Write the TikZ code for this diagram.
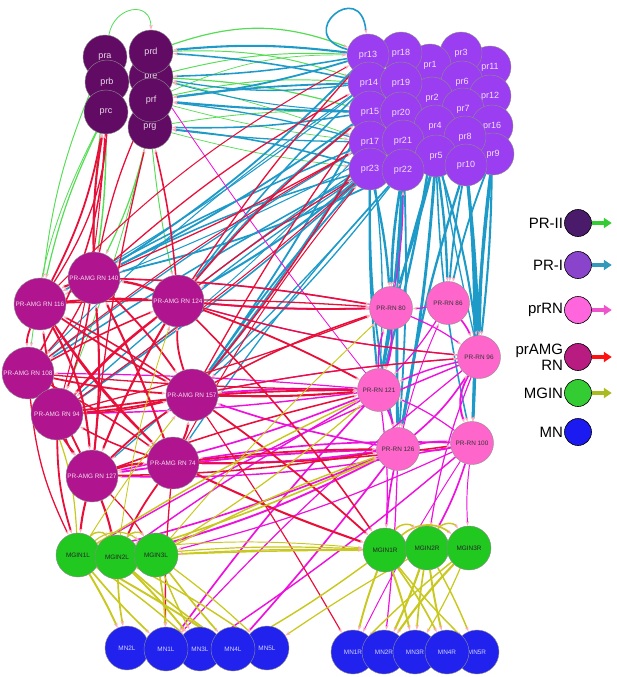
\documentclass[tikz,border=0pt]{standalone}
\usepackage{fontspec}
\setmainfont{Liberation Sans}
\usetikzlibrary{arrows.meta,positioning,backgrounds}

\definecolor{prII}{HTML}{620B64}
\definecolor{prI}{HTML}{9B3DF0}
\definecolor{prAMG}{HTML}{B0148E}
\definecolor{prRN}{HTML}{FF66CC}
\definecolor{mgin}{HTML}{20C820}
\definecolor{mn}{HTML}{2222EE}
\definecolor{eII}{HTML}{55DD55}
\definecolor{eI}{HTML}{1E9AC8}
\definecolor{eRN}{HTML}{EE11DD}
\definecolor{eAMG}{HTML}{E8103A}
\definecolor{eMG}{HTML}{C8C81E}
\definecolor{tippink}{HTML}{FFB0C0}
\definecolor{lgIIf}{HTML}{4A1B6A}
\definecolor{lgIf}{HTML}{8A44CC}
\definecolor{lgRNf}{HTML}{FF66DD}
\definecolor{lgAMGf}{HTML}{B81C80}
\definecolor{lgMGf}{HTML}{33CC33}
\definecolor{lgIIa}{HTML}{33CC33}
\definecolor{lgIa}{HTML}{3399BB}
\definecolor{lgRNa}{HTML}{EE55CC}
\definecolor{lgAMGa}{HTML}{FF1111}
\definecolor{lgMGa}{HTML}{AABB22}

\tikzset{
  cell/.style={circle, inner sep=0pt, draw=black!45, line width=0.4pt,
    font=\fontsize{6.4}{7}\selectfont},
  prIInode/.style={cell, fill=prII, minimum size=44pt, text=white!85!prII,
    font=\fontsize{9}{10}\selectfont},
  prInode/.style={cell, fill=prI, minimum size=42pt, text=white!85!prI,
    font=\fontsize{9}{10}\selectfont},
  amgnode/.style={cell, fill=prAMG, minimum size=52pt, text=white!85!prAMG},
  rnnode/.style={cell, fill=prRN, minimum size=43pt, text=black!80},
  mgnode/.style={cell, fill=mgin, minimum size=44pt, text=black!85},
  mnnode/.style={cell, fill=mn, minimum size=44pt, text=white!80!mn},
  eIIline/.style={->, draw=eII, line width=0.8pt},
  eIline/.style={->, draw=eI},
  eRNline/.style={->, draw=eRN},
  eAMGline/.style={->, draw=eAMG},
  eMGline/.style={->, draw=eMG},
  legdot/.style={circle, draw=black, line width=0.6pt, minimum size=27pt, inner sep=0pt},
  legtext/.style={inner sep=0pt, align=right, font=\fontsize{15}{16}\selectfont},
  legarrow/.style={line width=3.2pt, -{Triangle[length=8pt,width=10pt]}}
}

\begin{document}
\begin{tikzpicture}[x=1pt, y=1pt, >={Stealth[length=5pt,width=3.5pt,color=tippink]}]
\useasboundingbox (0,0) rectangle (617,-677);

% PR-II
\node[prIInode] (pra) at (105,-57) {pra};
\node[prIInode] (prb) at (107,-82) {prb};
\node[prIInode] (prc) at (106,-112) {prc};
\node[prIInode] (pre) at (151,-77) {pre};
\node[prIInode] (prg) at (150,-127) {prg};
\node[prIInode] (prf) at (151,-100) {prf};
\node[prIInode] (prd) at (151,-52) {prd};

% PR-I
\foreach \nm/\x/\y in {pr11/490/67, pr3/461/53, pr1/430/65, pr18/401/53, pr13/368/55,
  pr6/462/82, pr12/490/96, pr2/432/98, pr14/369/83, pr19/401/83, pr7/463/109,
  pr16/492/126, pr9/493/154, pr15/370/112, pr20/401/113, pr4/435/126, pr8/465/137,
  pr17/370/142, pr21/403/141, pr5/436/156, pr10/466/165, pr23/370/169, pr22/403/170}
  \node[prInode] (\nm) at (\x,-\y) {\nm};

% PR-AMG RN
\foreach \nm/\x/\y in {140/94/278, 116/40/304, 124/178/301, 108/28/373, 157/192/395,
  94/57/414, 74/173/463, 127/92/476}
  \node[amgnode] (amg\nm) at (\x,-\y) {PR-AMG RN \nm};

% PR-RN
\foreach \nm/\x/\y in {80/391/308, 86/448/303, 96/479/357, 121/379/390, 126/398/449, 100/472/443}
  \node[rnnode] (rn\nm) at (\x,-\y) {PR-RN \nm};

% MGIN
\node[mgnode] (mg1L) at (78,-555) {MGIN1L};
\node[mgnode] (mg2L) at (117,-557) {MGIN2L};
\node[mgnode] (mg3L) at (156,-555) {MGIN3L};
\node[mgnode] (mg1R) at (385,-550) {MGIN1R};
\node[mgnode] (mg2R) at (427,-548) {MGIN2R};
\node[mgnode] (mg3R) at (469,-548) {MGIN3R};

% MN
\foreach \nm/\x/\y in {2L/127/648, 5L/267/648, 3L/200/649, 1L/166/649, 4L/233/649,
  5R/477/652, 1R/353/652, 2R/384/652, 3R/415/652, 4R/447/652}
  \node[mnnode] (mn\nm) at (\x,-\y) {MN\nm};

\begin{pgfonlayer}{background}
% PR-II connections
\draw[eIIline] (pra) to[out=80,in=90,looseness=1.8] (prd);
\foreach \a/\b/\w/\bd in {prd/pr13/1.0/20, prd/pr14/0.8/10, pre/pr13/0.8/8, pre/pr15/1.0/6,
  prf/pr14/0.8/8, prf/pr17/0.6/-4, prg/pr15/0.7/5, prg/pr23/0.6/-4, prf/pr13/0.6/12,
  pre/pr17/0.6/3, prc/amg116/1.0/-6, prb/amg140/0.9/-4, prc/amg140/1.2/4, pra/amg116/0.8/-8,
  prg/amg140/1.0/6, prg/amg124/0.8/-3, prc/amg108/0.7/-10, prg/amg94/0.7/4}
  \draw[eIIline, line width=1.2*\w pt] (\a) to[bend left=\bd] (\b);

% PR-I connections
\draw[eIline, line width=1.6pt] (pr13) to[out=165,in=95,looseness=6] (pr13);
\foreach \a/\b/\w/\bd in {pr13/prd/1.6/-6, pr13/pre/1.2/4, pr14/prf/1.4/-3, pr15/prg/1.2/5,
  pr17/prf/1.0/-4, pr14/pre/1.0/8, pr23/prg/1.2/-5, pr15/pre/0.8/6, pr15/prf/1.6/2,
  pr17/prg/1.0/3, pr13/prf/1.4/5, pr14/prd/1.2/-4, pr15/amg140/1.4/4, pr17/amg116/1.2/-3,
  pr23/amg124/1.6/5, pr14/amg108/0.8/-5, pr17/amg157/1.2/3, pr23/amg94/1.0/-4,
  pr15/amg124/1.0/-6, pr22/amg140/1.4/6, pr21/amg116/0.8/3, pr23/amg157/1.4/-3,
  pr22/amg127/1.0/4, pr17/amg94/0.7/6, pr14/amg116/0.8/4, pr21/amg124/1.0/-2,
  pr22/amg157/1.0/5, pr23/amg108/1.2/-2, pr13/amg140/1.4/6, pr14/amg124/1.2/-4,
  pr15/amg157/1.4/3, pr17/amg108/1.0/-3, pr21/amg94/1.2/4, pr22/amg74/1.0/-4,
  pr23/amg140/1.2/-5, pr23/rn80/1.8/4, pr22/rn80/2.0/-4, pr22/rn121/2.0/3,
  pr23/rn121/1.6/-3, pr22/rn126/2.2/-2, pr5/rn126/2.2/3, pr5/rn121/1.6/-3,
  pr10/rn96/2.4/2, pr9/rn96/2.2/-3, pr10/rn100/2.0/4, pr9/rn100/2.2/-2, pr5/rn86/1.8/3,
  pr10/rn86/1.4/-3, pr5/rn80/1.6/2, pr10/rn126/1.8/-4, pr21/rn126/1.4/3, pr4/rn96/1.0/-2,
  pr17/rn121/1.0/5, pr23/rn126/1.4/-6, pr5/rn100/1.2/-5, pr21/rn80/2.0/4,
  pr4/rn121/1.8/3, pr5/rn96/1.6/5, pr8/rn100/1.4/3, pr9/rn86/1.4/-4, pr16/rn96/1.6/3}
  \draw[eIline, line width=1.3*\w pt] (\a) to[bend left=\bd] (\b);

% PR-RN connections
\foreach \a/\b/\w/\bd in {rn80/rn121/1.6/10, rn121/rn80/1.2/10, rn86/rn96/1.4/8,
  rn96/rn100/1.6/-25, rn100/rn126/1.4/8, rn126/rn100/1.2/8, rn121/rn126/1.6/6,
  rn96/rn121/1.2/-5, rn86/rn121/1.0/5, rn80/rn96/1.0/6, rn126/rn96/1.4/-8,
  rn86/rn80/1.0/6, rn100/rn121/1.0/-6, rn126/rn86/0.8/5, rn80/amg124/1.4/3,
  rn121/amg157/1.6/-3, rn126/amg74/1.8/4, rn121/amg127/1.4/5, rn80/amg140/1.0/-4,
  rn96/amg124/1.0/5, rn126/amg127/1.6/-3, rn100/amg74/1.4/-5, rn121/amg94/1.2/3,
  rn121/amg108/1.0/-2, rn126/amg157/1.4/4, rn96/amg157/1.0/-3, rn100/amg127/1.2/6,
  rn121/pre/0.7/2, rn80/pr22/0.8/-5, rn126/mg1R/1.4/-4, rn121/mg1R/1.0/5,
  rn100/mg2R/1.4/5, rn96/mg2R/1.0/-6, rn126/mg1L/1.4/4, rn121/mg2L/1.2/-3,
  rn100/mg3L/1.0/5, rn96/mg1L/1.2/-4, rn126/mg2L/1.6/6, rn100/mg3R/0.8/-5,
  rn126/mn4L/1.4/2, rn121/mn1L/1.4/-3, rn100/mn3L/1.2/3, rn126/mn2R/1.0/2,
  rn96/mn1L/1.0/-4, rn100/mn1R/0.8/-3}
  \draw[eRNline, line width=1.2*\w pt] (\a) to[bend left=\bd] (\b);

% PR-AMG RN connections
\foreach \a/\b/\w/\bd in {amg140/amg116/1.6/-10, amg116/amg108/1.4/-12,
  amg108/amg94/1.2/10, amg94/amg127/1.4/-10, amg127/amg74/1.8/8, amg74/amg157/1.6/-8,
  amg157/amg124/1.4/10, amg124/amg140/1.8/-8, amg140/amg157/1.4/5, amg116/amg124/1.6/4,
  amg108/amg157/1.4/-4, amg94/amg124/1.2/5, amg127/amg140/1.6/-5, amg74/amg116/1.2/6,
  amg157/amg94/1.4/4, amg124/amg127/1.6/-4, amg140/amg94/1.2/6, amg116/amg74/1.4/-5,
  amg108/amg124/1.2/3, amg127/amg157/1.4/5, amg74/amg140/1.6/-3, amg94/amg157/1.0/-6,
  amg116/amg127/1.6/12, amg140/amg108/1.0/8, amg108/amg127/1.4/-6, amg157/amg116/1.2/-3,
  amg116/amg157/1.4/-3, amg108/amg74/1.2/4, amg124/amg94/1.4/-6, amg74/amg94/1.2/6,
  amg127/amg116/1.4/10, amg116/prc/1.4/-8, amg140/prc/1.6/5, amg108/prb/1.2/-14,
  amg116/pra/1.0/-18, amg127/prg/1.0/4, amg124/prg/1.2/-4, amg140/prf/1.0/6,
  amg94/prc/0.8/-6, amg124/pr15/1.2/5, amg140/pr14/1.0/6, amg157/pr17/1.2/-4,
  amg124/pr23/1.0/3, amg116/pr13/0.8/8, amg94/pr21/0.8/-3, amg108/pr17/0.8/4,
  amg124/pr13/1.0/4, amg157/pr15/1.0/3, amg140/pr17/1.0/-3, amg74/pr23/0.8/5,
  amg124/rn80/1.4/-3, amg140/rn80/1.2/4, amg157/rn121/1.6/-3, amg74/rn126/1.4/3,
  amg157/rn80/1.2/5, amg127/rn126/1.2/-4, amg124/rn96/1.0/-5, amg94/rn121/1.4/4,
  amg116/rn80/1.0/3, amg108/rn121/1.0/-2, amg124/rn121/1.4/4, amg74/rn100/1.2/-4,
  amg157/rn96/1.0/3, amg127/rn121/1.2/3, amg94/rn80/1.0/-3, amg127/mg1L/1.6/-4,
  amg94/mg1L/1.4/-8, amg127/mg2L/1.6/4, amg74/mg2L/1.4/-5, amg157/mg1R/1.4/3,
  amg74/mg1R/1.6/-3, amg124/mg1R/1.2/5, amg108/mg1L/1.0/-10, amg74/mn1L/1.0/-3,
  amg157/mn1R/0.9/2, amg127/mg3L/1.0/6}
  \draw[eAMGline, line width=1.3*\w pt] (\a) to[bend left=\bd] (\b);

% MGIN connections
\foreach \a/\b/\w/\bd in {mg1L/mg2L/1.2/60, mg2L/mg3L/1.2/60, mg1L/mg3L/1.0/40,
  mg1R/mg3R/1.4/40, mg2R/mg3R/1.2/60, mg1R/mg2R/1.2/60, mg1L/mn2L/1.6/3,
  mg1L/mn1L/1.4/-3, mg2L/mn2L/1.4/-4, mg2L/mn3L/1.6/3, mg2L/mn4L/1.4/-3,
  mg3L/mn1L/1.4/4, mg3L/mn3L/1.2/-3, mg1L/mn4L/1.6/2, mg2L/mn5L/1.2/3,
  mg3L/mn4L/1.4/-2, mg1L/mn3L/1.2/4, mg3L/mn5L/1.0/3, mg1R/mn1R/1.6/-3,
  mg1R/mn3R/1.6/3, mg2R/mn2R/1.8/3, mg2R/mn4R/1.6/-3, mg3R/mn2R/1.8/-4,
  mg3R/mn1R/1.2/-3, mg1R/mn4R/1.4/4, mg2R/mn5R/1.2/3, mg3R/mn3R/1.0/4,
  mg1R/mn5R/1.2/-3, mg2R/mn3R/1.4/-2, mg3L/mg1R/1.2/1, mg1R/mg3L/1.0/-2,
  mg2L/mg1R/1.0/4, mg1L/mg1R/0.8/6, mg1L/rn121/1.2/3, mg2L/rn126/1.4/-3,
  mg3L/rn121/1.0/-4, mg1L/amg157/0.8/3, mg2L/amg124/0.7/5, mg1L/amg108/1.0/-12,
  mg3L/rn80/0.8/3, mg1R/mn4L/1.2/3, mg2R/mn5L/1.0/-2, mg3L/rn126/1.2/4}
  \draw[eMGline, line width=1.2*\w pt] (\a) to[bend left=\bd] (\b);
\end{pgfonlayer}

% legend
\foreach \nm/\y/\txt in {lgII/223/PR-II, lgI/265/PR-I, lgRN/310/prRN,
  lgAMG/357/{prAMG\\RN}, lgMG/393/MGIN}
{
  \node[legdot, fill=\nm f] (\nm) at (578,-\y) {};
  \node[legtext, left=1pt of \nm] (\nm t) {\txt};
  \coordinate[right=20pt of \nm] (\nm e);
  \draw[legarrow, \nm a] (\nm) -- (\nm e);
}
\node[legdot, fill=mn!80!blue] (lgMN) at (578,-432) {};
\node[legtext, left=1pt of lgMN] (lgMNt) {MN};

\end{tikzpicture}
\end{document}
